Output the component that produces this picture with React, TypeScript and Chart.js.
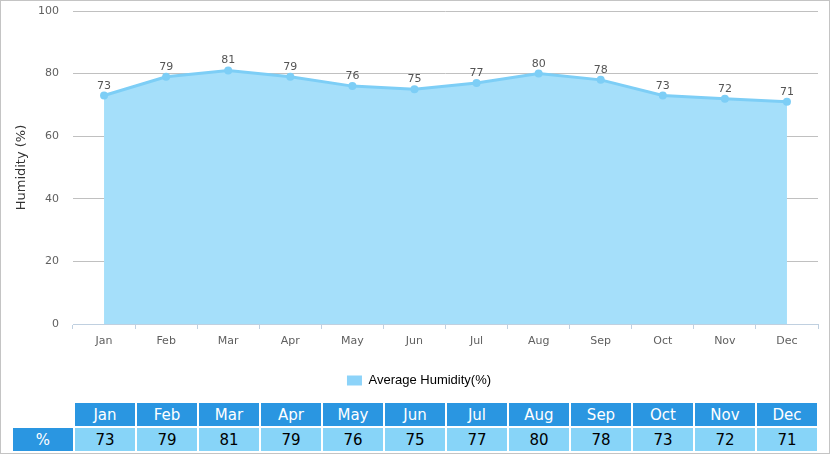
import React, { useEffect, useRef } from "react";
import { Chart, registerables } from "chart.js";

Chart.register(...registerables);

const months = ["Jan", "Feb", "Mar", "Apr", "May", "Jun", "Jul", "Aug", "Sep", "Oct", "Nov", "Dec"];
const humidity = [73, 79, 81, 79, 76, 75, 77, 80, 78, 73, 72, 71];
const seriesName = "Average Humidity(%)";
const yTitle = "Humidity (%)";
const rowLabel = "%";

const LINE = "rgb(125,206,246)";
const FILL = "rgb(165,223,250)";
const LEGEND_BOX = "rgb(140,211,249)";
const HEAD_BG = "rgb(42,150,225)";
const CELL_BG = "rgb(135,212,248)";
const FONT = "'DejaVu Sans', Verdana, sans-serif";

const valueLabels = {
  id: "valueLabels",
  afterDatasetsDraw(chart: any) {
    const ctx = chart.ctx;
    const meta = chart.getDatasetMeta(0);
    const data = chart.data.datasets[0].data;
    ctx.save();
    ctx.font = "11px " + FONT;
    ctx.fillStyle = "#555";
    ctx.textAlign = "center";
    ctx.textBaseline = "alphabetic";
    meta.data.forEach((pt: any, i: number) => {
      ctx.fillText(String(data[i]), pt.x, pt.y - 7);
    });
    ctx.restore();
  },
};

export default function App() {
  const ref = useRef<HTMLCanvasElement | null>(null);

  useEffect(() => {
    document.body.style.margin = "0";
    const chart = new Chart(ref.current as HTMLCanvasElement, {
      type: "line",
      data: {
        labels: months,
        datasets: [
          {
            label: seriesName,
            data: humidity,
            borderColor: LINE,
            backgroundColor: FILL,
            fill: "origin",
            borderWidth: 3,
            tension: 0,
            pointRadius: 4,
            pointBackgroundColor: LINE,
            pointBorderColor: LINE,
            pointBorderWidth: 0,
          },
        ],
      },
      options: {
        responsive: false,
        animation: false,
        layout: { padding: { top: 11, left: 20, right: 12, bottom: 3 } },
        plugins: {
          tooltip: { enabled: false },
          legend: {
            position: "bottom",
            labels: {
              boxWidth: 15,
              boxHeight: 10,
              padding: 10,
              color: "#000",
              font: { family: "'Liberation Sans', Arial, sans-serif", size: 13 },
              generateLabels: () => [
                {
                  text: seriesName,
                  fillStyle: LEGEND_BOX,
                  strokeStyle: LEGEND_BOX,
                  lineWidth: 0,
                  hidden: false,
                  datasetIndex: 0,
                } as any,
              ],
            },
          },
        },
        scales: {
          x: {
            offset: true,
            grid: {
              drawOnChartArea: false,
              drawTicks: true,
              tickLength: 5,
              color: "#c0d0e0",
              offset: true,
            },
            border: { display: true, color: "#c0d0e0" },
            ticks: {
              color: "#606060",
              font: { family: FONT, size: 11 },
              padding: 6,
              maxRotation: 0,
            },
            afterFit: (s: any) => {
              s.height = 40;
            },
          },
          y: {
            min: 0,
            max: 100,
            ticks: {
              stepSize: 20,
              color: "#606060",
              font: { family: FONT, size: 11 },
              padding: 14,
            },
            grid: { color: "#c0c0c0", drawTicks: false },
            border: { display: false },
            title: {
              display: true,
              text: yTitle,
              color: "#333",
              font: { family: FONT, size: 13 },
              padding: { top: -6, bottom: 4 },
            },
            afterFit: (s: any) => {
              s.width = 53;
              s.paddingTop = 0;
              s.paddingBottom = 0;
            },
          },
        },
      },
      plugins: [valueLabels],
    });
    return () => chart.destroy();
  }, []);

  const cell: React.CSSProperties = {
    position: "absolute",
    height: 23,
    width: 60,
    display: "flex",
    alignItems: "center",
    justifyContent: "center",
    fontFamily: FONT,
    fontSize: 15,
  };

  return (
    <div style={{ position: "relative", width: 830, height: 454, overflow: "hidden", background: "#fff" }}>
      <canvas ref={ref} width={830} height={400} style={{ position: "absolute", left: 0, top: 0, width: 830, height: 400 }} />
      {months.map((m, i) => (
        <div key={"h" + m} style={{ ...cell, left: 75 + i * 62, top: 403, background: HEAD_BG, color: "#fff" }}>
          {m}
        </div>
      ))}
      <div style={{ ...cell, left: 13, top: 428, background: HEAD_BG, color: "#fff" }}>{rowLabel}</div>
      {humidity.map((v, i) => (
        <div key={"v" + i} style={{ ...cell, left: 75 + i * 62, top: 428, background: CELL_BG, color: "#000" }}>
          {v}
        </div>
      ))}
      <div
        style={{
          position: "absolute",
          left: 0,
          top: 0,
          width: 830,
          height: 454,
          boxSizing: "border-box",
          border: "1px solid #c4c4c4",
          pointerEvents: "none",
        }}
      />
    </div>
  );
}
